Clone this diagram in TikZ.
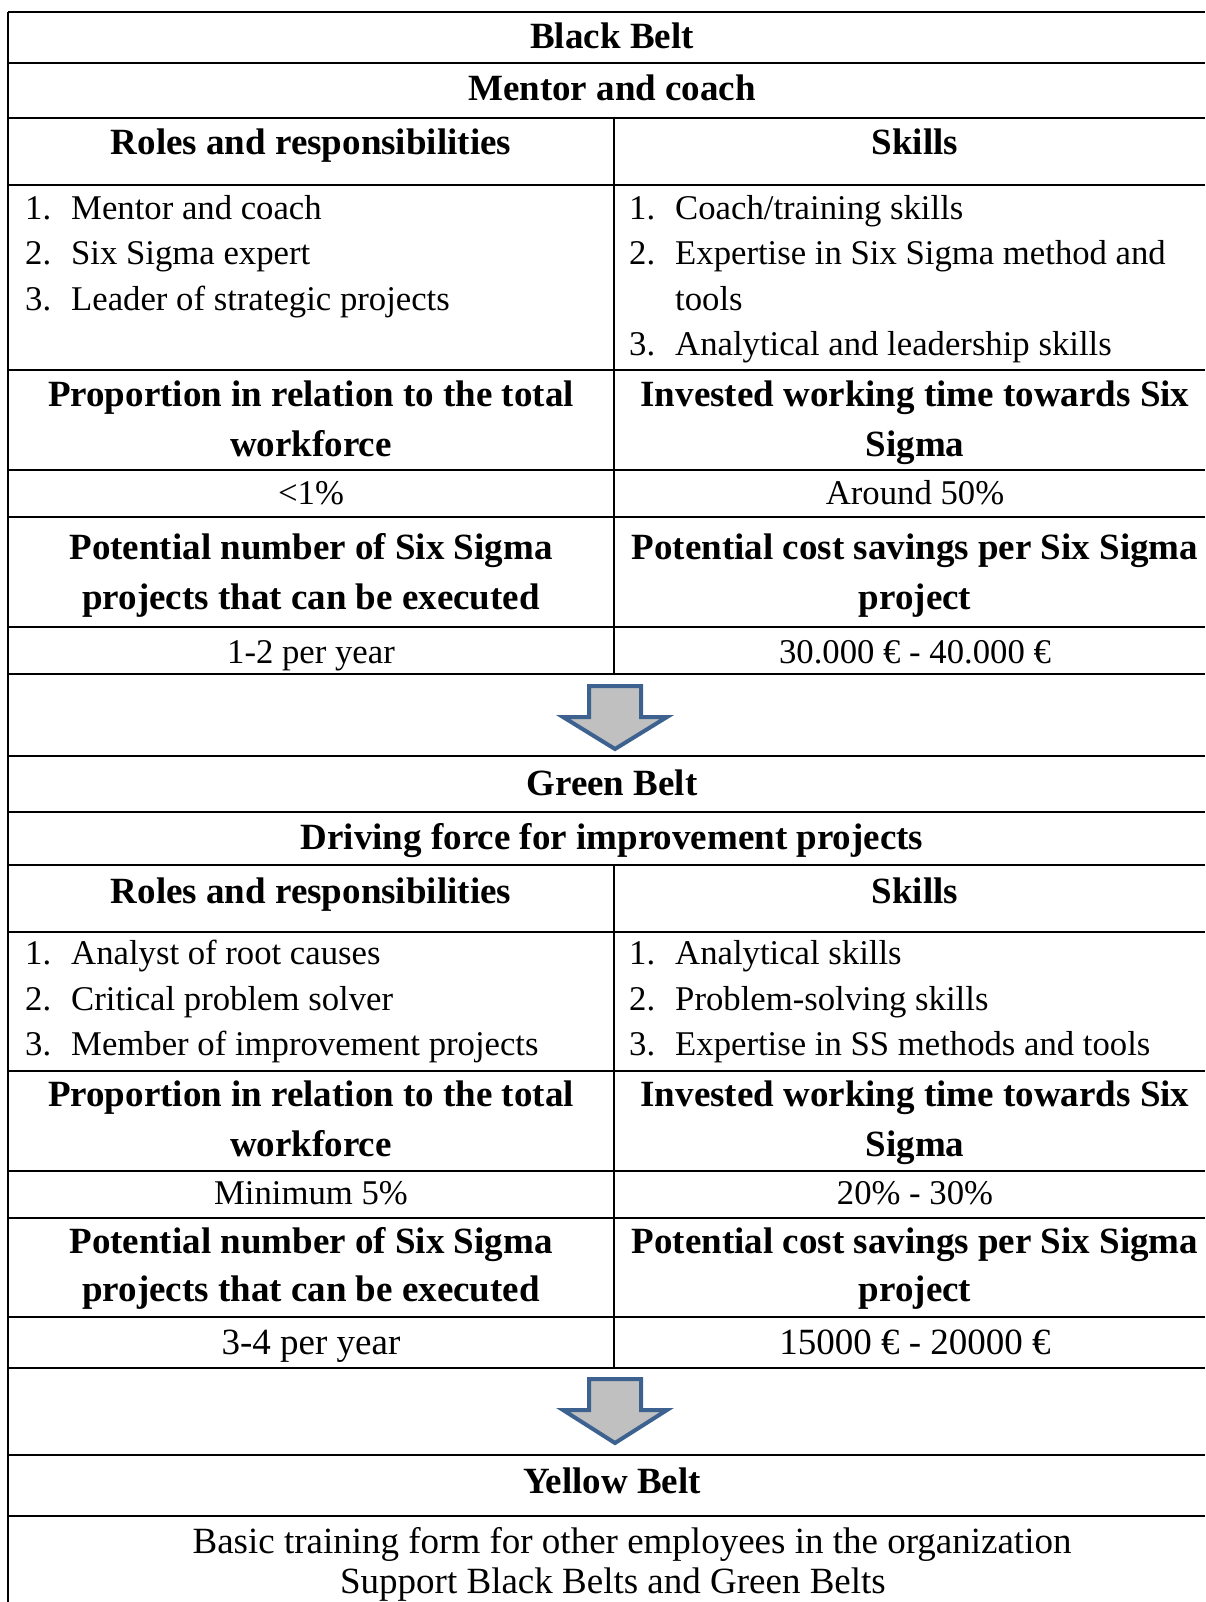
\documentclass[tikz,border=0pt]{standalone}
\usepackage{fontspec}
\setmainfont{Liberation Serif}
\usetikzlibrary{positioning}
\definecolor{arrowblue}{HTML}{3D6290}
\definecolor{arrowgray}{HTML}{C0C0C0}

\begin{document}
\begin{tikzpicture}[x=1pt,y=-1pt,
  rule/.style={line width=2pt},
  hd/.style={anchor=base,inner sep=0pt,font=\fontsize{37}{44}\selectfont\bfseries},
  txt/.style={anchor=base,inner sep=0pt,font=\fontsize{34.7}{40}\selectfont},
  big/.style={anchor=base,inner sep=0pt,font=\fontsize{37}{44}\selectfont},
  num/.style={anchor=base west,inner sep=0pt,font=\fontsize{34.7}{40}\selectfont},
  down/.style={draw=arrowblue,fill=arrowgray,line width=4pt,line join=miter}]
\useasboundingbox (0,0) rectangle (1205,1602);

% table rules
\draw[rule] (8,12) -- (8,1602);
\foreach \y in {12,63,118,185,370,470,517,627,674,756,812,865,932,1071,1171,1218,1317,1368,1455,1516}
  \draw[rule] (8,\y) -- (1205,\y);
\draw[rule] (614,118) -- (614,674);
\draw[rule] (614,865) -- (614,1368);

% black belt
\node[hd] (bb) at (612,49) {Black Belt};
\node[hd] (bbrole) at (612,101) {Mentor and coach};
\node[hd] (bbl) at (311,155) {Roles and responsibilities};
\node[hd] (bbr) at (915,155) {Skills};
\node[num] (bbl1) at (25,220) {1.};
\node[num] (bbl2) at (25,265) {2.};
\node[num] (bbl3) at (25,310) {3.};
\node[num] (bbl1t) at (71,220) {Mentor and coach};
\node[num] (bbl2t) at (71,265) {Six Sigma expert};
\node[num] (bbl3t) at (71,310) {Leader of strategic projects};
\node[num] (bbr1) at (629,220) {1.};
\node[num] (bbr2) at (629,265) {2.};
\node[num] (bbr3) at (629,355) {3.};
\node[num] (bbr1t) at (675,220) {Coach/training skills};
\node[num] (bbr2t) at (675,265) {Expertise in Six Sigma method and};
\node[num] (bbr2u) at (675,310) {tools};
\node[num] (bbr3t) at (675,355) {Analytical and leadership skills};
\node[hd] (bbp1) at (311,406) {Proportion in relation to the total};
\node[hd] (bbp2) at (311,456) {workforce};
\node[hd] (bbi1) at (915,406) {Invested working time towards Six};
\node[hd] (bbi2) at (915,456) {Sigma};
\node[txt] (bbpv) at (311,504) {<1\%};
\node[txt] (bbiv) at (915,504) {Around 50\%};
\node[hd] (bbn1) at (311,559) {Potential number of Six Sigma};
\node[hd] (bbn2) at (311,609) {projects that can be executed};
\node[hd] (bbc1) at (915,559) {Potential cost savings per Six Sigma};
\node[hd] (bbc2) at (915,609) {project};
\node[txt] (bbnv) at (311,663) {1-2 per year};
\node[txt] (bbcv) at (915,663) {30.000 € - 40.000 €};

\draw[down] (589,686) -- (641,686) -- (641,717) -- (667,717) -- (615,749)
  -- (563,717) -- (589,717) -- cycle;

% green belt
\node[hd] (gb) at (612,795) {Green Belt};
\node[hd] (gbrole) at (612,849) {Driving force for improvement projects};
\node[hd] (gbl) at (311,903) {Roles and responsibilities};
\node[hd] (gbr) at (915,903) {Skills};
\node[num] (gbl1) at (25,964) {1.};
\node[num] (gbl2) at (25,1010) {2.};
\node[num] (gbl3) at (25,1055) {3.};
\node[num] (gbl1t) at (71,964) {Analyst of root causes};
\node[num] (gbl2t) at (71,1010) {Critical problem solver};
\node[num] (gbl3t) at (71,1055) {Member of improvement projects};
\node[num] (gbr1) at (629,964) {1.};
\node[num] (gbr2) at (629,1010) {2.};
\node[num] (gbr3) at (629,1055) {3.};
\node[num] (gbr1t) at (675,964) {Analytical skills};
\node[num] (gbr2t) at (675,1010) {Problem-solving skills};
\node[num] (gbr3t) at (675,1055) {Expertise in SS methods and tools};
\node[hd] (gbp1) at (311,1106) {Proportion in relation to the total};
\node[hd] (gbp2) at (311,1156) {workforce};
\node[hd] (gbi1) at (915,1106) {Invested working time towards Six};
\node[hd] (gbi2) at (915,1156) {Sigma};
\node[txt] (gbpv) at (311,1204) {Minimum 5\%};
\node[txt] (gbiv) at (915,1204) {20\% - 30\%};
\node[hd] (gbn1) at (311,1253) {Potential number of Six Sigma};
\node[hd] (gbn2) at (311,1301) {projects that can be executed};
\node[hd] (gbc1) at (915,1253) {Potential cost savings per Six Sigma};
\node[hd] (gbc2) at (915,1301) {project};
\node[big] (gbnv) at (311,1354) {3-4 per year};
\node[big] (gbcv) at (915,1354) {15000 € - 20000 €};

\draw[down] (589,1379) -- (641,1379) -- (641,1410) -- (667,1410) -- (615,1443)
  -- (563,1410) -- (589,1410) -- cycle;

% yellow belt
\node[hd] (yb) at (612,1493) {Yellow Belt};
\node[big] (yb1) at (632,1553) {Basic training form for other employees in the organization};
\node[big] (yb2) at (613,1593) {Support Black Belts and Green Belts};
\end{tikzpicture}
\end{document}
